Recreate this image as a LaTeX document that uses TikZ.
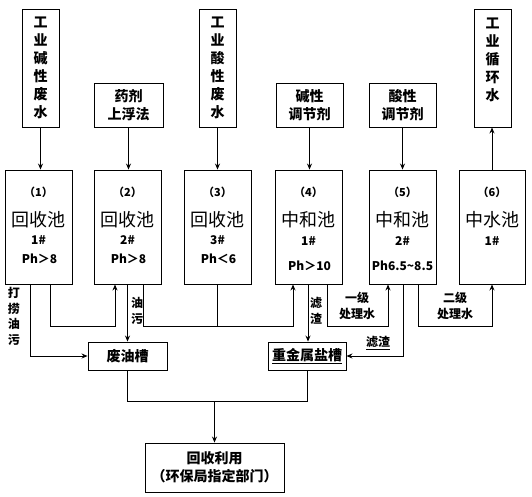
\documentclass[tikz,border=0pt]{standalone}
\usepackage{fontspec}
\setmainfont{Noto Sans CJK SC}
\usetikzlibrary{arrows.meta}

\tikzset{
  box/.style={draw, line width=0.9pt, inner sep=0pt},
  arr/.style={line width=0.9pt, -{Stealth[length=6pt,width=5pt]}},
  pipe/.style={line width=0.9pt},
  vtext/.style={align=center, font=\fontsize{14}{18}\selectfont\bfseries},
  lab/.style={align=center, font=\fontsize{12}{16}\selectfont\bfseries},
  numf/.style={font=\fontsize{11}{13}\selectfont\bfseries},
  bigf/.style={font=\fontsize{18}{20}\selectfont},
  smallf/.style={font=\fontsize{12}{14}\selectfont\bfseries}
}

\begin{document}
\begin{tikzpicture}[x=1pt, y=-1pt]
  \useasboundingbox (0,0) rectangle (532,496);

  % inputs along the top
  \node[box, vtext, minimum width=37pt, minimum height=118pt] (wA) at (40.5,68) {工\\业\\碱\\性\\废\\水};
  \node[box, vtext, minimum width=69pt, minimum height=44pt] (wB) at (128.5,105) {药剂\\上浮法};
  \node[box, vtext, minimum width=37pt, minimum height=118pt] (wC) at (217.5,68) {工\\业\\酸\\性\\废\\水};
  \node[box, vtext, minimum width=67pt, minimum height=44pt] (wD) at (309.5,105) {碱性\\调节剂};
  \node[box, vtext, minimum width=67pt, minimum height=44pt] (wE) at (402.5,105) {酸性\\调节剂};
  \node[box, minimum width=37pt, minimum height=118pt] (wF) at (492.5,68) {};
  \node[vtext] (wFt) at (492.5,60) {工\\业\\循\\环\\水};

  % tanks
  \node[box, minimum width=67pt, minimum height=114pt] (t1) at (38.5,227) {};
  \node[box, minimum width=67pt, minimum height=114pt] (t2) at (127.5,227) {};
  \node[box, minimum width=67pt, minimum height=114pt] (t3) at (217.5,227) {};
  \node[box, minimum width=67pt, minimum height=114pt] (t4) at (308.5,227) {};
  \node[box, minimum width=67pt, minimum height=114pt] (t5) at (402.5,227) {};
  \node[box, minimum width=66pt, minimum height=114pt] (t6) at (492,227) {};

  \node[numf] (n1) at (38.5,192) {（1）};
  \node[bigf] (c1) at (38.5,220) {回收池};
  \node[smallf] (h1) at (38.5,240) {1\#};
  \node[smallf] (p1) at (39.5,259) {Ph＞8};

  \node[numf] (n2) at (127.5,192) {（2）};
  \node[bigf] (c2) at (127.5,220) {回收池};
  \node[smallf] (h2) at (127.5,240) {2\#};
  \node[smallf] (p2) at (128.5,259) {Ph＞8};

  \node[numf] (n3) at (217.5,192) {（3）};
  \node[bigf] (c3) at (217.5,220) {回收池};
  \node[smallf] (h3) at (217.5,240) {3\#};
  \node[smallf] (p3) at (218.5,259) {Ph＜6};

  \node[numf] (n4) at (308.5,192) {（4）};
  \node[bigf] (c4) at (308.5,220) {中和池};
  \node[smallf] (h4) at (308.5,241) {1\#};
  \node[smallf] (p4) at (309.5,266) {Ph＞10};

  \node[numf] (n5) at (402.5,192) {（5）};
  \node[bigf] (c5) at (402.5,220) {中和池};
  \node[smallf] (h5) at (402.5,241) {2\#};
  \node[smallf] (p5) at (402.5,266) {Ph6.5\textasciitilde 8.5};

  \node[numf] (n6) at (492,192) {（6）};
  \node[bigf] (c6) at (492,220) {中水池};
  \node[smallf] (h6) at (492,241) {1\#};

  % collecting tanks
  \node[box, vtext, minimum width=79pt, minimum height=28pt] (oil) at (127.5,356) {废油槽};
  \node[box, vtext, minimum width=78pt, minimum height=28pt] (salt) at (307,356) {\underline{重金属盐槽}};
  \node[box, vtext, minimum width=139pt, minimum height=49pt] (reuse) at (214.5,467.5) {回收利用\\（环保局指定部门）};

  % feeds into the tanks
  \draw[arr] (wA.south) -- (wA.south |- t1.north);
  \draw[arr] (wB.south) -- (wB.south |- t2.north);
  \draw[arr] (wC.south) -- (wC.south |- t3.north);
  \draw[arr] (wD.south) -- (wD.south |- t4.north);
  \draw[arr] (wE.south) -- (wE.south |- t5.north);
  \draw[arr] (t6.north) -- (t6.north |- wF.south);

  % pipes between the tanks
  \draw[arr] (30,0 |- t1.south) |- (oil.west);
  \draw[arr] (50,0 |- t1.south) |- (115,326) -- (115,0 |- t2.south);
  \draw[arr] (t2.south) -- (oil.north);
  \draw[arr] (143,0 |- t2.south) |- (293,326) -- (293,0 |- t4.south);
  \draw[pipe] (t3.south) -- (t3.south |- 0,326);
  \draw[arr] (308,0 |- t4.south) -- (308,0 |- salt.north);
  \draw[arr] (327,0 |- t4.south) |- (388,326) -- (388,0 |- t5.south);
  \draw[arr] (403,0 |- t5.south) |- (salt.east);
  \draw[arr] (418,0 |- t5.south) |- (492,326) -- (492,0 |- t6.south);

  % to reuse
  \draw[pipe] (oil.south) |- (salt.south |- 0,401) -- (salt.south);
  \draw[arr] (reuse.north |- 0,401) -- (reuse.north);

  % pipe labels
  \node[lab, font=\fontsize{12}{15.5}\selectfont\bfseries] (l1) at (14,316.5) {打\\捞\\油\\污};
  \node[lab] (l2) at (137,311) {油\\污};
  \node[lab] (l3) at (316,311) {滤\\渣};
  \node[lab] (l4) at (357,305.5) {一级\\处理水};
  \node[lab] (l5) at (455,305.5) {二级\\处理水};
  \node[lab] (l6) at (378,343) {\underline{滤渣}};
\end{tikzpicture}
\end{document}
